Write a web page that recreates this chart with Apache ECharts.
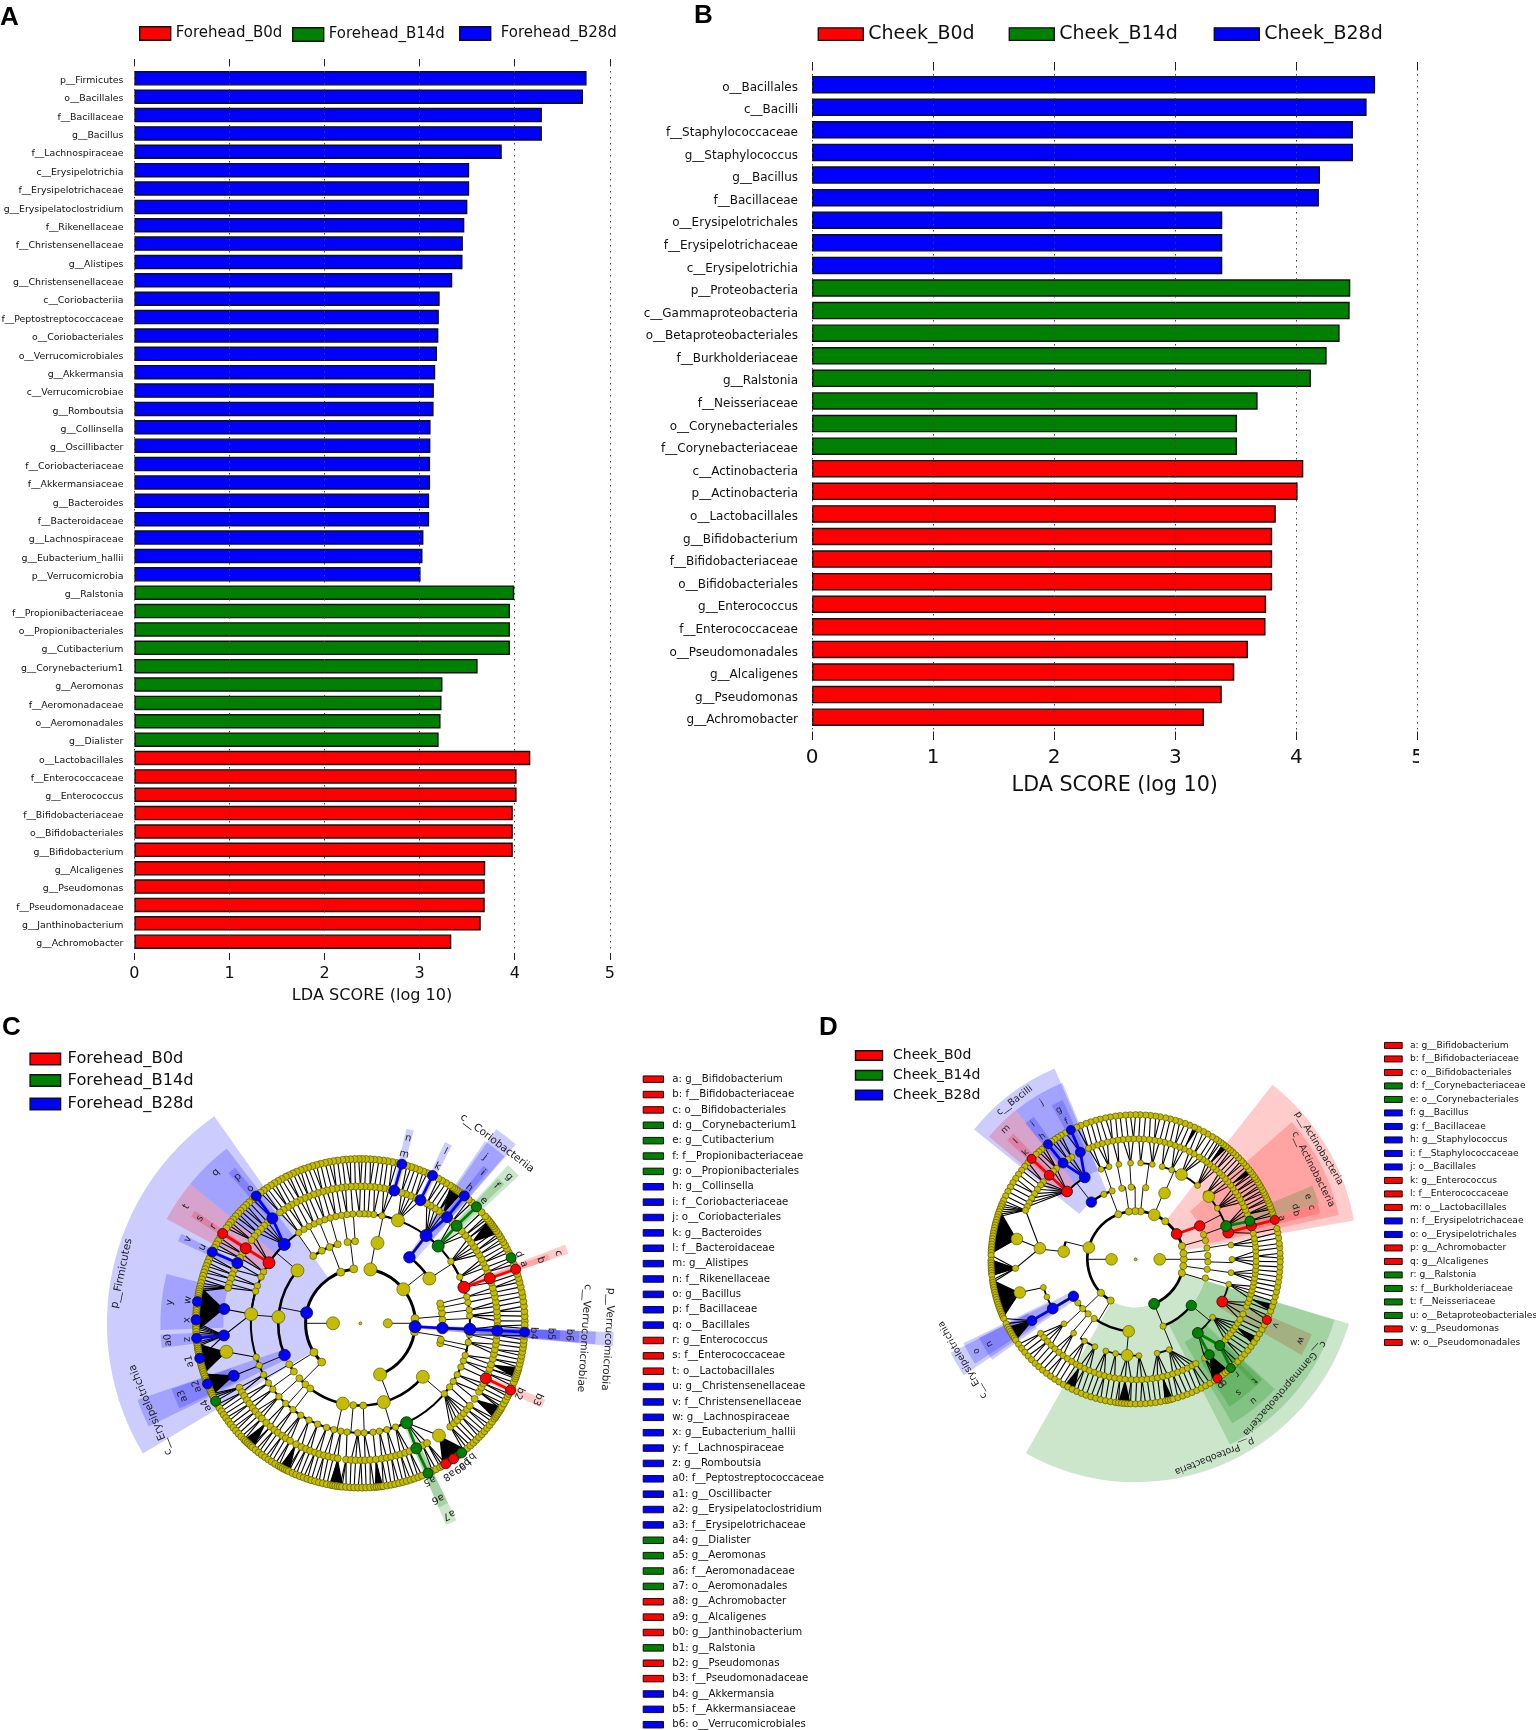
<!DOCTYPE html>
<html>
<head>
<meta charset="utf-8">
<title>LDA and cladogram</title>
<style>html,body{margin:0;padding:0;background:#fff}#main{width:1536px;height:1730px}</style>
<script src="https://cdn.jsdelivr.net/npm/echarts@6/dist/echarts.min.js"></script>
</head>
<body>
<div id="main"></div>
<script>
// Panel A bars
var aB28Taxa = ['p__Firmicutes','o__Bacillales','f__Bacillaceae','g__Bacillus','f__Lachnospiraceae','c__Erysipelotrichia','f__Erysipelotrichaceae','g__Erysipelatoclostridium','f__Rikenellaceae','f__Christensenellaceae','g__Alistipes','g__Christensenellaceae','c__Coriobacteriia','f__Peptostreptococcaceae','o__Coriobacteriales','o__Verrucomicrobiales','g__Akkermansia','c__Verrucomicrobiae','g__Romboutsia','g__Collinsella','g__Oscillibacter','f__Coriobacteriaceae','f__Akkermansiaceae','g__Bacteroides','f__Bacteroidaceae','g__Lachnospiraceae','g__Eubacterium_hallii','p__Verrucomicrobia']
var aB28Scores = [4.756,4.718,4.286,4.286,3.864,3.521,3.521,3.502,3.47,3.455,3.451,3.343,3.211,3.202,3.197,3.183,3.164,3.15,3.147,3.115,3.113,3.11,3.11,3.10,3.10,3.04,3.03,3.01]
var aB14Taxa = ['g__Ralstonia','f__Propionibacteriaceae','o__Propionibacteriales','g__Cutibacterium','g__Corynebacterium1','g__Aeromonas','f__Aeromonadaceae','o__Aeromonadales','g__Dialister']
var aB14Scores = [3.995,3.95,3.95,3.95,3.61,3.24,3.23,3.22,3.20]
var aB0Taxa = ['o__Lactobacillales','f__Enterococcaceae','g__Enterococcus','f__Bifidobacteriaceae','o__Bifidobacteriales','g__Bifidobacterium','g__Alcaligenes','g__Pseudomonas','f__Pseudomonadaceae','g__Janthinobacterium','g__Achromobacter']
var aB0Scores = [4.164,4.02,4.02,3.98,3.98,3.98,3.69,3.685,3.685,3.643,3.333]

// Panel B bars
var bB28Taxa = ['o__Bacillales','c__Bacilli','f__Staphylococcaceae','g__Staphylococcus','g__Bacillus','f__Bacillaceae','o__Erysipelotrichales','f__Erysipelotrichaceae','c__Erysipelotrichia']
var bB28Scores = [4.65,4.58,4.467,4.467,4.195,4.186,3.388,3.388,3.388]
var bB14Taxa = ['p__Proteobacteria','c__Gammaproteobacteria','o__Betaproteobacteriales','f__Burkholderiaceae','g__Ralstonia','f__Neisseriaceae','o__Corynebacteriales','f__Corynebacteriaceae']
var bB14Scores = [4.445,4.44,4.357,4.25,4.12,3.68,3.51,3.51]
var bB0Taxa = ['c__Actinobacteria','p__Actinobacteria','o__Lactobacillales','g__Bifidobacterium','f__Bifidobacteriaceae','o__Bifidobacteriales','g__Enterococcus','f__Enterococcaceae','o__Pseudomonadales','g__Alcaligenes','g__Pseudomonas','g__Achromobacter']
var bB0Scores = [4.057,4.01,3.83,3.80,3.80,3.80,3.75,3.745,3.60,3.487,3.384,3.237]

var xTicks = [0,1,2,3,4,5]

// Panel C cladogram: angles in degrees, counter-clockwise from east
var cRing1 = [0,180]
var cRing2 = [5,38.4,79.5,97,111,212,225,291,351,359]
var cRing3 = [2.5,7,11,14,33,78,93.7,99,106,112,118,125,140,175.6,210,216,222,228,232.4,257.6,265,272,286.5,319.4,346,348.4]
var cRing4 = [4,7,11,14,25,34.4,70,78.6,83,86,88,90.5,94,97,100,103,106,109,112,115,118,121,124.2,152,155,160,163,175.2,198,202.6,208,213,217,222,227,232,237,242,247,252,256,259.7,263,268.6,272,276.6,280,284,288.7,320,324.5,328,332,336.5,340,343,350,354]
var cRing5 = [1,3.2,5,7.1,9,11.2,13,15,17.3,22,24,26.2,28,30.1,32,34,36,38.2,40,42.3,48,53,55.1,57,59.2,61,66.5,68.5,70.6,72.5,78,80.2,82,84.1,86,88.2,90,92.1,94,96.2,98,100.1,102,104.2,106,108.1,110,112.2,114,116.1,118,120.2,122,124.1,126,132.5,134.6,136.5,138.6,140.5,142.6,149.5,151.5,157,159.1,161,163.2,165,192,208,210.2,212,214.1,216,218.2,220,222.1,224,226.6,229,231.1,233,235.2,237,239.1,242,244.5,246.6,248.5,250.6,252.5,254.6,256.5,258.6,260.5,264,266.1,268,270.2,272,274.1,276.5,279,281.1,283,285.2,287,289.1,291,297,299.1,305,311,313.1,315,317.2,319,321.1,323,326.5,330,332.1,334,338.5,340.6,342.5,345,347.1,349,351.2,353,355,358.8]
var cRing6 = [0.8,2.5,4.2,6,7.7,9.5,11,12.8,14.5,16,17.5,21,22.6,25.5,27,28.3,29.6,30.9,32,33,34.2,35.3,36.2,37,37.8,38.6,39.5,40.6,42.5,47.3,48.8,52.5,53.6,54.4,55.2,56,57,58.6,60.2,61.7,66,67.5,69,70.6,72,73.6,77.2,78.8,80.5,82,83.5,85.2,86.5,88,89.4,90.6,92,93.5,95,96.3,98,99.5,101,102.4,104,105.5,107,108.5,110,111.3,112.8,114.2,115.7,117,118.6,120,121.5,123,124.6,126,127.4,131,132.6,134,135.4,136.8,138,139.4,140.8,142,143.3,144.6,148.6,150,151.3,152.7,155.8,157,158.3,159.6,160.8,162,163.2,164.5,165.8,167,168,168.8,169.6,170.4,171.2,173.2,174,174.8,175.6,176.4,177.2,178,179.6,180.4,181.2,182,183,184,186.6,187.4,188.1,188.8,189.5,190.2,190.9,191.6,193,193.7,194.4,195.1,195.8,196.5,197.2,198,198.8,199.6,200.4,202.6,203.3,204,204.7,205.4,206.1,207,209.6,211,212.4,213.8,215.2,216.6,218,219.4,220.8,222.2,223.6,225,225.8,226.6,227.4,228.2,229,230.4,231.8,233.2,234.6,236,237.4,238.8,240.2,241,241.8,242.6,243.4,244.2,245.6,247,248.4,249.8,251.2,252.6,254,255.4,256.8,258.2,259.6,260.4,261.2,262,262.8,263.6,265,266.4,267.8,269.2,270.6,272,273.4,274.8,275.6,276.4,277.2,278,279.4,280.8,282.2,283.6,285,286.4,287.8,289.2,290.6,292,296,297.4,299,300,302.4,303.4,305.4,306.2,307,309,310.5,312,313.4,314.8,316.2,317.6,319,320.4,321.8,323.2,324.6,325.4,326.2,327,327.8,328.6,329.4,330.8,332.2,333.6,334.6,337.6,339,340.4,341.2,342,342.8,343.6,344.4,345.8,347.2,348.6,350,351.4,352.8,354.2,355.6,358.2,359.4]
var cBig = [[1,180],[2,38.4],[2,79.5],[2,291],[3,33],[3,78],[3,140],[3,175.6],[3,257.6],[3,286.5],[3,319.4],[4,70],[4,175.2],[5,192],[5,305]]
var cBlue = [[2,168.9],[4,134],[5,130],[6,129.3],[5,153.9],[6,154.3],[5,174],[6,172.4],[6,178.8],[5,185.1],[6,185.2],[6,192.3],[3,202.7],[5,202.5],[6,201.6],[3,53.4],[4,53.2],[5,50.8],[6,50.8],[5,75.7],[6,75.4],[5,64],[6,64],[2,356.5],[3,356.7],[4,356.9],[5,356.9],[6,356.9]]
var cRed = [[4,146.5],[5,146.8],[6,146.9],[4,19.2],[5,19.2],[6,19.2],[5,336.3],[6,336],[6,301.3],[6,304.5]]
var cGreen = [[4,44.8],[5,45.4],[6,45.1],[4,294.9],[5,294.1],[6,294.3],[6,308],[6,208.3],[6,23.5]]
// solid fans of leaves: parent ring, parent angle, from angle, to angle
var cFans = [[5,174,167,183],[5,192,187,198],[5,202.5,198,206],[5,305,300,310],[5,276.5,275,278],[5,260.5,259,264],[5,242,240.5,244.5],[5,226.6,225,229.5],[5,326.5,324.5,329.5],[5,342.5,340.5,344.5],[5,36,33,39],[5,53,52,57]]
// shaded clades: inner ring, outer radius, from angle, to angle
var cShadeBlue = [[2,9.25,125.2,210.9],[3,8.6,198.9,206],[4,8.03,127.4,140.7],[5,7.3,128.8,131.3],[5,7.3,153.4,155.8],[5,7.3,165.7,181.9],[5,7.3,183.3,187],[5,7.3,199.2,205.2],[3,8.65,49,55],[4,8.05,49.2,55.6],[5,7.3,50,52],[5,7.3,62.8,65],[5,7.3,74.5,76.7],[2,9.25,354.8,358],[3,8.6,354.9,358],[4,8,355,358],[5,7.3,355.3,358]]
var cShadeRed = [[4,8.03,140.7,151.7],[5,7.3,145.8,147.8],[4,8,18.5,21],[5,7.3,18.5,20.3],[5,7.3,335,337.5]]
var cShadeGreen = [[4,7.9,43,47],[5,7.3,44,46.5],[4,8,293,296],[5,7.3,293,296]]
var cLetters = [['q',7.63,133.8],['p',6.97,130],['o',6.35,129.2],['t',7.65,146.2],['s',7,146.8],['r',6.42,146.7],['v',7,154],['u',6.39,154.3],['y',7,173.8],['w',6.35,172.3],['x',6.33,178.9],['a0',7.04,185],['z',6.35,185.3],['a1',6.38,192.5],['a3',7,202.2],['a2',6.39,201],['a4',6.37,208],['a5',6.27,293.7],['a6',7,293.8],['a7',7.7,294.8],['a8',6.41,300.3],['a9',6.39,304.5],['b0',6.39,306.5],['b1',6.33,309],['b2',6.33,336.2],['b3',7.04,336.8],['b4',6.33,356.7],['b5',6.97,356.8],['b6',7.64,356.8],['a',6.34,20],['b',6.97,19.3],['c',7.66,19.5],['d',6.31,23.5],['e',6.35,44.9],['f',7.06,45.3],['g',7.62,44.6],['h',6.35,51.2],['i',7.08,50.9],['j',7.59,53.1],['k',6.37,63.8],['l',7,63.6],['m',6.37,75.5],['n',6.97,75.5]]
var cCladeNames = [['c__Coriobacteriia',8.25,52.8],['p__Firmicutes',8.9,168.2],['c__Erysipelotrichia',8.28,202.4],['p__Verrucomicrobia',9.05,356.3],['c__Verrucomicrobiae',8.18,356.2]]

// Panel D cladogram
var dRing1 = [0,180]
var dRing2 = [0,7,16,52,67.3,84,90.4,98,111,165.9,224,238.8,343.5,352]
var dRing3 = [3,9,15,20,66.4,82,93.5,101,109,116,173.9,217,223,229,235,264.5,292.4,345,352,358]
var dRing4 = [0,8.5,32,40.6,42.8,50,61.6,68,74,80,87,93,100,106,111,173.4,197,203,222,230,238,245,252,258,265,272,282.9,290.4,323,345,352]
var dRing5 = [1.5,4,6,8.2,10,12.5,22,24.1,26,28.2,30,32.1,34,36.2,38,40.1,42,44.2,46,48.1,50,52.2,54,56.1,58,61,63.5,66.2,68.5,71,73.5,76.1,78.5,81,83.5,86.2,88.5,91,93.5,96.1,98.5,101,103.5,106.2,108.5,111,113,122,124.1,131,133,140,142,144.5,147,149.5,152,154.1,156,170.3,184.3,196,218,220.5,223,225.5,228,230.5,233,235.5,238,240.5,242.5,245,247.5,250,252.5,255,257.5,260,262.5,265,268,270.5,273,275.5,278,280.5,283,285.5,288,290.5,293,295.5,298,300,305,318,320.1,322,324.2,326,328,330,333,337,339.1,341,343.2,345,347,349.1,351,353.2,355,357,359]
var dRing6 = [0.5,2.4,4.6,6.3,8.5,10.6,12.3,17.6,19,20.3,21.3,22.6,23.9,25,26.3,27.4,28.6,29.9,31,32.2,33.5,34.6,35.8,37.1,38.4,40,41.7,43,44.6,46.1,47.6,49,50.2,51.4,52.6,53.8,55,56.3,58,60.1,62,64.2,66,68.1,70,72.2,74,76.1,78,80.2,82,84.1,86,88.2,90,92.1,94,96.2,98,100.1,102,104.2,106,108.1,110,112.2,114,119,121,122.5,124,125.5,129,130.5,132,133.5,138,140,142,144,146,148,150,152,154,156,157.5,158.6,159.7,160.8,161.9,163,164.1,165.2,166.3,167.4,168.5,169.6,170.7,171.8,172.9,174,175.1,176.2,177.3,178.4,180.4,181.4,182.4,183.4,184.4,185.4,186.4,188.2,189.2,190.2,191.2,192.2,193.2,194.2,195.2,196.2,197.2,198.2,199.2,200.2,201.2,202.2,203.2,204.2,206.4,208,209,210,211,212,213,214,216,218,220,222,224,226,228,230,232,234,236,238,240,242,244,246,248,250,252,254,256,258,260,262,263.2,264.4,265.6,266.8,268,270,272,274,276,278,280,282,283,284,285,287,289,291,293,295,297,299,301,303,305.6,307,308.4,309.6,313,315,317,319,321,323,325,327,329,331,333,337,339,341,343,345,347,349,351,353,355,357,359]
var dBig = [[1,180],[1,0],[2,165.9],[2,67.3],[3,173.9],[3,66.4],[3,264.5],[4,61.6],[4,173.4],[4,265],[4,40.6],[5,170.3],[5,196]]
var dBlue = [[3,127.7],[4,121.8],[5,117.3],[6,116.6],[5,127],[6,127.3],[3,210.7],[4,210.7],[5,210.6]]
var dRed = [[2,31.7],[3,27.5],[4,16.1],[5,16.1],[6,15.8],[4,135.3],[5,135.8],[6,136],[4,334],[6,335.2],[6,304.5]]
var dGreen = [[2,292.5],[3,320.4],[4,310.2],[5,307.7],[5,314.3],[6,311.2],[4,20.2],[5,18.5]]
var dFans = [[5,170.3,160,178],[5,184.3,180,186.5],[5,196,188,204],[5,210.6,208,214],[5,265,263,268],[5,283,281.5,285],[5,307.7,302,310],[5,242.5,240.5,245],[5,52.2,50.5,53],[5,38,36.5,39],[5,66.2,64.5,66.5],[5,341,339,342],[5,326,324,327.5]]
var dShadeBlue = [[3,8.6,113,141.2],[4,7.93,112.5,128.8],[5,7.27,114.6,118.6],[5,7.27,125.5,129],[3,8.6,206.8,214],[4,7.95,206,213],[5,7.27,206.6,215]]
var dShadeRed = [[2,9.2,10.1,51.9],[3,8.63,12.3,41.3],[4,7.9,14,17],[4,7.93,128.8,140.1],[5,7.27,134.2,137.2],[4,7.95,330,337]]
var dShadeGreen = [[4,7.95,17,22.6],[2,9.25,240.5,343.2],[3,8.63,297,343],[4,7.9,300.5,317],[5,7.25,302.5,315],[5,7.25,313.5,316.5]]
var dLetters = [['a',6.3,15.7],['b',6.93,16],['c',7.61,16.4],['d',6.97,18.2],['e',7.61,20],['f',6.39,116.6],['g',6.96,117.2],['h',6.39,127.2],['i',7.03,127.2],['j',7.58,120.9],['k',6.35,135.9],['l',6.97,135.4],['m',7.63,135],['n',7,210.1],['o',7.62,210],['p',6.3,304],['q',6.3,305.5],['r',6.35,311.5],['s',6.97,307.7],['t',7.03,314.4],['u',7.63,309.8],['v',6.41,334.8],['w',7.62,333.7]]
var dCladeNames = [['c__Bacilli',8.28,127.3],['c__Erysipelotrichia',8.3,210.2],['p__Actinobacteria',8.9,31.2],['c__Actinobacteria',8.26,26.9],['p__Proteobacteria',8.8,291.8],['c__Gammaproteobacteria',8.17,319.1]]

// Taxon keys next to the cladograms
var cKeyNames = ['a: g__Bifidobacterium','b: f__Bifidobacteriaceae','c: o__Bifidobacteriales','d: g__Corynebacterium1','e: g__Cutibacterium','f: f__Propionibacteriaceae','g: o__Propionibacteriales','h: g__Collinsella','i: f__Coriobacteriaceae','j: o__Coriobacteriales','k: g__Bacteroides','l: f__Bacteroidaceae','m: g__Alistipes','n: f__Rikenellaceae','o: g__Bacillus','p: f__Bacillaceae','q: o__Bacillales','r: g__Enterococcus','s: f__Enterococcaceae','t: o__Lactobacillales','u: g__Christensenellaceae','v: f__Christensenellaceae','w: g__Lachnospiraceae','x: g__Eubacterium_hallii','y: f__Lachnospiraceae','z: g__Romboutsia','a0: f__Peptostreptococcaceae','a1: g__Oscillibacter','a2: g__Erysipelatoclostridium','a3: f__Erysipelotrichaceae','a4: g__Dialister','a5: g__Aeromonas','a6: f__Aeromonadaceae','a7: o__Aeromonadales','a8: g__Achromobacter','a9: g__Alcaligenes','b0: g__Janthinobacterium','b1: g__Ralstonia','b2: g__Pseudomonas','b3: f__Pseudomonadaceae','b4: g__Akkermansia','b5: f__Akkermansiaceae','b6: o__Verrucomicrobiales']
var cKeyGroups = ['r','r','r','g','g','g','g','b','b','b','b','b','b','b','b','b','b','r','r','r','b','b','b','b','b','b','b','b','b','b','g','g','g','g','r','r','r','g','r','r','b','b','b']
var dKeyNames = ['a: g__Bifidobacterium','b: f__Bifidobacteriaceae','c: o__Bifidobacteriales','d: f__Corynebacteriaceae','e: o__Corynebacteriales','f: g__Bacillus','g: f__Bacillaceae','h: g__Staphylococcus','i: f__Staphylococcaceae','j: o__Bacillales','k: g__Enterococcus','l: f__Enterococcaceae','m: o__Lactobacillales','n: f__Erysipelotrichaceae','o: o__Erysipelotrichales','p: g__Achromobacter','q: g__Alcaligenes','r: g__Ralstonia','s: f__Burkholderiaceae','t: f__Neisseriaceae','u: o__Betaproteobacteriales','v: g__Pseudomonas','w: o__Pseudomonadales']
var dKeyGroups = ['r','r','r','g','g','b','b','b','b','b','r','r','r','b','b','r','r','g','g','g','g','r','r']

var RED = '#ff0000', GREEN = '#008000', BLUE = '#0000ff', YELLOW = '#c4bc00'
var FONT = 'DejaVu Sans'
var groupColor = {r: RED, g: GREEN, b: BLUE}

var myChart = echarts.init(document.getElementById('main'), null, {renderer: 'canvas'})

var grids = [], xAxes = [], yAxes = [], series = [], polars = [], angleAxes = [], radiusAxes = [], legends = []

function addGrid(box) {
  grids.push({left: box.left, top: box.top, width: box.width, height: box.height, outerBoundsMode: 'none'})
  return grids.length - 1
}

// bars of one LDA panel, plus a taller frame that holds ticks and dotted lines above them
function ldaPanel(p) {
  var taxa = p.blue[0].concat(p.green[0], p.red[0])
  var nb = p.blue[0].length, ng = p.green[0].length
  var g = addGrid({left: p.left, top: p.rowTop, width: p.width, height: p.rowHeight})
  xAxes.push({gridIndex: g, type: 'value', min: 0, max: 5, show: false})
  var yi = yAxes.length
  yAxes.push({gridIndex: g, type: 'category', inverse: true, data: taxa,
    axisLine: {show: false}, axisTick: {show: false},
    axisLabel: {interval: 0, fontSize: p.labelSize, margin: p.labelGap, color: '#111', fontFamily: FONT,
      verticalAlign: 'top', lineHeight: p.labelLine}})
  var pad = function (n) { return new Array(n).fill(null) }
  var sets = [
    [p.names[2], BLUE, p.blue[1].concat(pad(taxa.length - nb))],
    [p.names[1], GREEN, pad(nb).concat(p.green[1], pad(taxa.length - nb - ng))],
    [p.names[0], RED, pad(nb + ng).concat(p.red[1])]
  ]
  sets.forEach(function (s) {
    series.push({name: s[0], type: 'bar', xAxisIndex: xAxes.length - 1, yAxisIndex: yi, data: s[2],
      barWidth: p.barWidth, barGap: '-100%', silent: true, animation: false,
      itemStyle: {color: s[1], borderColor: '#111', borderWidth: 1.4}})
  })
  var f = addGrid({left: p.left, top: p.frameTop, width: p.width, height: p.frameHeight})
  yAxes.push({gridIndex: f, type: 'value', show: false, min: 0, max: 1})
  xAxes.push({gridIndex: f, type: 'value', min: 0, max: 5, interval: 1, position: 'bottom', z: 5,
    name: 'LDA SCORE (log 10)', nameLocation: 'middle', nameGap: p.nameGap,
    nameTextStyle: {fontSize: p.nameSize, color: '#111', fontFamily: FONT},
    axisLine: {show: false},
    axisTick: {show: true, inside: true, length: p.tick, lineStyle: {color: '#222', width: 1}},
    axisLabel: {fontSize: p.tickSize, margin: p.tickGap, color: '#111', fontFamily: FONT,
      formatter: function (v) { return xTicks.indexOf(v) >= 0 ? String(v) : '' }},
    splitLine: {show: true, lineStyle: {type: [1.5, 4.5], color: '#444', width: 1}}})
  xAxes.push({gridIndex: f, type: 'value', min: 0, max: 5, interval: 1, position: 'top', z: 5,
    axisLine: {show: false}, axisLabel: {show: false}, splitLine: {show: false},
    axisTick: {show: true, inside: true, length: p.tick, lineStyle: {color: '#222', width: 1}}})
}

ldaPanel({left: 134.4, width: 475.4, rowTop: 69.1, rowHeight: 881.8, frameTop: 59, frameHeight: 901,
  blue: [aB28Taxa, aB28Scores], green: [aB14Taxa, aB14Scores], red: [aB0Taxa, aB0Scores],
  names: ['Forehead_B0d', 'Forehead_B14d', 'Forehead_B28d'],
  barWidth: 14.5, labelSize: 9.4, labelGap: 11, labelLine: 4.5, tickSize: 16, tickGap: 6, tick: 6.5, nameSize: 16.1, nameGap: 27.5})
ldaPanel({left: 812, width: 605.5, rowTop: 73.4, rowHeight: 655.1, frameTop: 62, frameHeight: 678,
  blue: [bB28Taxa, bB28Scores], green: [bB14Taxa, bB14Scores], red: [bB0Taxa, bB0Scores],
  names: ['Cheek_B0d', 'Cheek_B14d', 'Cheek_B28d'],
  barWidth: 17.5, labelSize: 12, labelGap: 14, labelLine: 6, tickSize: 20, tickGap: 8, tick: 8.5, nameSize: 20.7, nameGap: 35.5})

// nearest node of the next ring in, same colour first when the node is highlighted
function angleDiff(a, b) {
  var d = Math.abs(a - b) % 360
  return d > 180 ? 360 - d : d
}
function findParent(node, ring, reach) {
  var best = null, bd = 1e9
  if (node.color) {
    ring.forEach(function (n) {
      var d = angleDiff(n.a, node.a)
      if (n.color === node.color && d < reach && d < bd) { bd = d; best = n }
    })
    if (best) return best
  }
  ring.forEach(function (n) {
    var d = angleDiff(n.a, node.a)
    if (d < bd) { bd = d; best = n }
  })
  return best
}

function cladogram(c) {
  var pi = polars.length
  polars.push({center: c.center, radius: c.radius})
  angleAxes.push({polarIndex: pi, type: 'value', min: 0, max: 360, startAngle: 0, clockwise: false, show: false})
  radiusAxes.push({polarIndex: pi, type: 'value', min: 0, max: 10, show: false})

  // shaded clades
  ;[[c.shadeBlue, '0,0,255'], [c.shadeRed, '255,0,0'], [c.shadeGreen, '0,128,0']].forEach(function (s) {
    series.push({type: 'custom', coordinateSystem: 'polar', polarIndex: pi, silent: true, z: 1, animation: false,
      data: s[0],
      renderItem: function (params, api) {
        var cs = params.coordSys, unit = api.coord([1, 0])[0] - cs.cx
        return {type: 'sector', shape: {cx: cs.cx, cy: cs.cy, r0: api.value(0) * unit, r: api.value(1) * unit,
          startAngle: -api.value(3) * Math.PI / 180, endAngle: -api.value(2) * Math.PI / 180, clockwise: true},
          style: {fill: 'rgba(' + s[1] + ',0.2)'}}
      }})
  })

  // tree edges worked out from the ring lists
  var rings = [[{a: 0, color: null}]]
  for (var L = 1; L <= 6; L++) {
    rings[L] = c.rings[L - 1].map(function (a) { return {a: a, color: null} })
  }
  ;[[c.blue, BLUE], [c.red, RED], [c.green, GREEN]].forEach(function (h) {
    h[0].forEach(function (n) { rings[n[0]].push({a: n[1], color: h[1]}) })
  })
  var edges = []
  var arcWidth = [0, 0, 3 * c.scale, 2.6 * c.scale, 2 * c.scale]
  for (var lv = 2; lv <= 6; lv++) {
    var groups = []
    rings[lv].forEach(function (n) {
      var par = findParent(n, rings[lv - 1], lv <= 4 ? 45 : 8)
      var hit = n.color && par.color === n.color && angleDiff(n.a, par.a) < 5.5
      if (hit) {
        edges.push({kind: 'line', l1: lv - 1, a1: par.a, l2: lv, a2: n.a, w: 2.8, color: n.color})
      } else if (lv >= 5) {
        edges.push({kind: 'line', l1: lv - 1, a1: par.a, l2: lv, a2: n.a, w: 1.1, color: '#000'})
      } else {
        var g = groups.filter(function (x) { return x.par === par })[0]
        if (!g) { g = {par: par, lo: 0, hi: 0}; groups.push(g) }
        var off = ((n.a - par.a + 540) % 360) - 180
        g.lo = Math.min(g.lo, off); g.hi = Math.max(g.hi, off)
      }
    })
    groups.forEach(function (g) {
      edges.push({kind: 'line', l1: lv - 1, a1: g.par.a, l2: lv, a2: g.par.a, w: 1, color: '#111'})
      edges.push({kind: 'arc', l1: lv, a1: g.par.a + g.lo, l2: lv, a2: g.par.a + g.hi, w: arcWidth[lv], color: '#000'})
    })
  }
  c.fans.forEach(function (f) {
    edges.push({kind: 'fan', l1: f[0], a1: f[1], from: f[2], to: f[3]})
  })
  series.push({type: 'custom', coordinateSystem: 'polar', polarIndex: pi, silent: true, z: 2, animation: false,
    data: edges.map(function (e) { return [e.l1, e.a1] }),
    renderItem: function (params, api) {
      var e = edges[params.dataIndex], cs = params.coordSys
      if (e.kind === 'fan') {
        return {type: 'polygon', shape: {points: [api.coord([e.l1, e.a1]), api.coord([6, e.from]), api.coord([6, e.to])]}, style: {fill: '#000'}}
      }
      if (e.kind === 'arc') {
        var unit = api.coord([1, 0])[0] - cs.cx
        return {type: 'arc', shape: {cx: cs.cx, cy: cs.cy, r: e.l1 * unit,
          startAngle: -e.a2 * Math.PI / 180, endAngle: -e.a1 * Math.PI / 180, clockwise: true},
          style: {stroke: e.color, lineWidth: e.w, fill: null}}
      }
      var p1 = api.coord([e.l1, e.a1]), p2 = api.coord([e.l2, e.a2])
      return {type: 'line', shape: {x1: p1[0], y1: p1[1], x2: p2[0], y2: p2[1]}, style: {stroke: e.color, lineWidth: e.w}}
    }})

  // nodes
  var yellowSize = [3, 9 * c.scale, 8 * c.scale, 7 * c.scale, 6.5 * c.scale, 7 * c.scale, 7 * c.scale]
  var nodeBorder = {borderColor: '#4a4700', borderWidth: 0.6}
  var yellow = []
  c.rings.forEach(function (angles, i) { angles.forEach(function (a) { yellow.push([i + 1, a]) }) })
  yellow.push([0, 0])
  series.push({type: 'scatter', coordinateSystem: 'polar', polarIndex: pi, silent: true, z: 3, animation: false,
    data: yellow, symbolSize: function (v) { return yellowSize[v[0]] }, itemStyle: Object.assign({color: YELLOW, opacity: 1}, nodeBorder)})
  series.push({type: 'scatter', coordinateSystem: 'polar', polarIndex: pi, silent: true, z: 3, animation: false,
    data: c.big, symbolSize: 13 * c.scale, itemStyle: Object.assign({color: YELLOW, opacity: 1}, nodeBorder)})
  var hiSize = [0, 12 * c.scale, 12 * c.scale, 11.5 * c.scale, 12 * c.scale, 11 * c.scale, 10 * c.scale]
  ;[[c.names[0], c.red, RED], [c.names[1], c.green, GREEN], [c.names[2], c.blue, BLUE]].forEach(function (h) {
    series.push({name: h[0], type: 'scatter', coordinateSystem: 'polar', polarIndex: pi, silent: true, z: 4, animation: false,
      data: h[1], symbolSize: function (v) { return hiSize[v[0]] },
      itemStyle: {color: h[2], opacity: 1, borderColor: '#111', borderWidth: 0.8}})
  })

  // rotated letters and clade names
  ;[[c.letters, c.letterSize, 5], [c.cladeNames, c.nameSize, 6]].forEach(function (t) {
    series.push({type: 'custom', coordinateSystem: 'polar', polarIndex: pi, silent: true, z: t[2], animation: false,
      data: t[0].map(function (l) { return [l[1], l[2]] }),
      renderItem: function (params, api) {
        var l = t[0][params.dataIndex], pt = api.coord([l[1], l[2]])
        return {type: 'text', x: pt[0], y: pt[1], rotation: (l[2] - 90) * Math.PI / 180,
          style: {text: l[0], fontSize: t[1], fontFamily: FONT, fill: '#222', align: 'center', verticalAlign: 'middle'}}
      }})
  })
}

cladogram({center: [360.4, 1323.3], radius: 274, scale: 1,
  rings: [cRing1, cRing2, cRing3, cRing4, cRing5, cRing6], big: cBig, blue: cBlue, red: cRed, green: cGreen, fans: cFans,
  shadeBlue: cShadeBlue, shadeRed: cShadeRed, shadeGreen: cShadeGreen,
  letters: cLetters, cladeNames: cCladeNames, letterSize: 10, nameSize: 10.5,
  names: ['Forehead_B0d', 'Forehead_B14d', 'Forehead_B28d']})
cladogram({center: [1135.6, 1259.3], radius: 241, scale: 0.9,
  rings: [dRing1, dRing2, dRing3, dRing4, dRing5, dRing6], big: dBig, blue: dBlue, red: dRed, green: dGreen, fans: dFans,
  shadeBlue: dShadeBlue, shadeRed: dShadeRed, shadeGreen: dShadeGreen,
  letters: dLetters, cladeNames: dCladeNames, letterSize: 9, nameSize: 9.5,
  names: ['Cheek_B0d', 'Cheek_B14d', 'Cheek_B28d']})

// key lists: one short bar per taxon, name on the axis
function keyList(k) {
  var g = addGrid({left: k.left, top: k.top, width: k.width, height: k.rowHeight * k.names.length})
  xAxes.push({gridIndex: g, type: 'value', min: 0, max: 1, show: false})
  yAxes.push({gridIndex: g, type: 'category', inverse: true, position: 'right', data: k.names,
    axisLine: {show: false}, axisTick: {show: false},
    axisLabel: {interval: 0, fontSize: k.fontSize, margin: k.gap, color: '#111', fontFamily: FONT}})
  series.push({type: 'bar', xAxisIndex: xAxes.length - 1, yAxisIndex: yAxes.length - 1, silent: true, animation: false,
    data: k.names.map(function () { return 1 }), barWidth: k.barHeight,
    itemStyle: {color: function (p) { return groupColor[k.groups[p.dataIndex]] }, borderColor: '#111', borderWidth: 1}})
}
keyList({names: cKeyNames, groups: cKeyGroups, left: 642.7, width: 21.3, top: 1071.5, rowHeight: 15.37, barHeight: 7.5, fontSize: 10.2, gap: 8.3})
keyList({names: dKeyNames, groups: dKeyGroups, left: 1384, width: 18.7, top: 1038.7, rowHeight: 13.5, barHeight: 7, fontSize: 9.1, gap: 7.3})

// legends
function legendItem(name, left, top, w, h, size, extra) {
  legends.push({data: [name], left: left, top: top, padding: 0, itemWidth: w, itemHeight: h, icon: 'rect', selectedMode: false,
    itemStyle: {borderColor: '#111', borderWidth: 1.4},
    textStyle: {fontSize: size, color: '#111', fontFamily: FONT, padding: [0, 0, 0, extra || 0]}})
}
legendItem('Forehead_B0d', 139, 26, 31, 13.5, 15)
legendItem('Forehead_B14d', 292, 27, 31, 13.5, 15)
legendItem('Forehead_B28d', 459, 26, 31, 13.5, 15, 5)
legendItem('Cheek_B0d', 817.6, 24.6, 45, 12.5, 19)
legendItem('Cheek_B14d', 1008.6, 24.6, 45, 12.5, 19)
legendItem('Cheek_B28d', 1213.6, 24.6, 45, 12.5, 19)
legendItem('Forehead_B0d', 29.4, 1051, 30.5, 11.5, 16.3, 2)
legendItem('Forehead_B14d', 29.4, 1072.5, 30.5, 11.5, 16.3, 2)
legendItem('Forehead_B28d', 29.4, 1096, 30.5, 11.5, 16.3, 2)
legendItem('Cheek_B0d', 854.8, 1048.5, 27, 9.5, 14, 5.5)
legendItem('Cheek_B14d', 854.8, 1068.3, 27, 9.5, 14, 5.5)
legendItem('Cheek_B28d', 854.8, 1088, 27, 9.5, 14, 5.5)

var panelLetter = function (text, left, top) {
  return {text: text, left: left, top: top, padding: 0,
    textStyle: {fontSize: 26, fontWeight: 'bold', color: '#000', fontFamily: 'Liberation Sans'}}
}

var option = {
  animation: false,
  backgroundColor: '#fff',
  textStyle: {fontFamily: FONT},
  title: [panelLetter('A', 0, 5), panelLetter('B', 694, 3), panelLetter('C', 2, 1015), panelLetter('D', 819, 1015)],
  legend: legends,
  grid: grids,
  xAxis: xAxes,
  yAxis: yAxes,
  polar: polars,
  angleAxis: angleAxes,
  radiusAxis: radiusAxes,
  series: series,
  // the right edge of panel B's last tick label is cut off in the figure
  graphic: [{type: 'rect', silent: true, z: 100, shape: {x: 1419, y: 744, width: 30, height: 24}, style: {fill: '#fff'}}]
}

myChart.setOption(option)
</script>
</body>
</html>
